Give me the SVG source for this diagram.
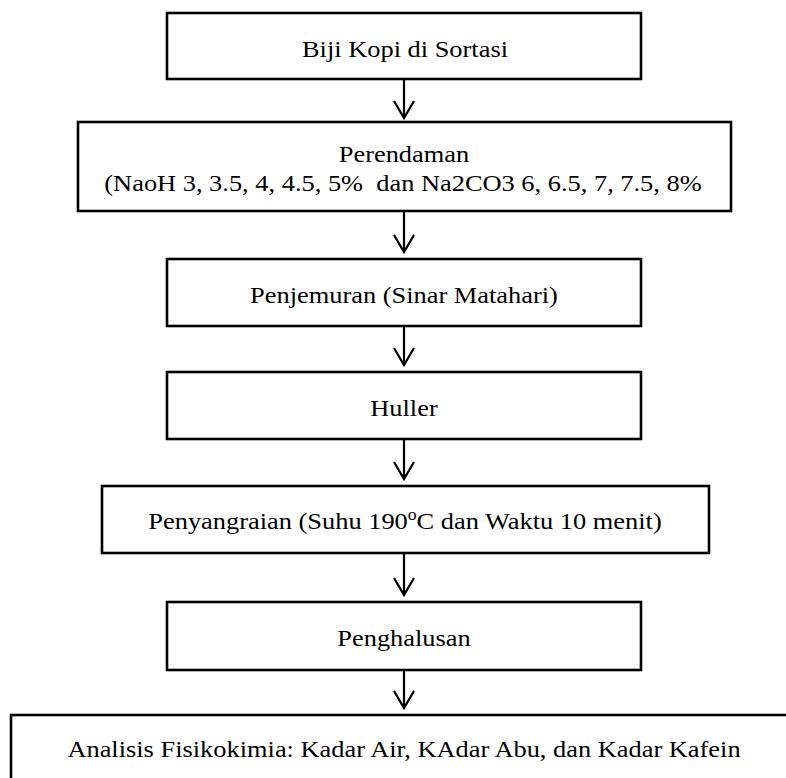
<svg xmlns="http://www.w3.org/2000/svg" width="786" height="778" viewBox="0 0 786 778">
  <style>
    .box { fill: #ffffff; stroke: #000000; stroke-width: 2.6; }
    .lbl { font-family: "Liberation Serif", "Times New Roman", serif; font-size: 24px; fill: #000000; text-anchor: middle; }
    .conn { fill: none; stroke: #000000; stroke-width: 2.2; stroke-linecap: butt; stroke-linejoin: miter; }
  </style>
  <rect width="786" height="778" fill="#ffffff"/>

  <g id="connectors">
    <path class="conn" d="M404 79 V118 M394 101 L404 118 L414 101"/>
    <path class="conn" d="M404 211 V252 M394 235 L404 252 L414 235"/>
    <path class="conn" d="M404 326 V365 M394 348 L404 365 L414 348"/>
    <path class="conn" d="M404 439 V479 M394 462 L404 479 L414 462"/>
    <path class="conn" d="M404 553 V595 M394 578 L404 595 L414 578"/>
    <path class="conn" d="M404 670 V708 M394 691 L404 708 L414 691"/>
  </g>

  <g id="node-sortasi">
    <rect class="box" x="167" y="13" width="474" height="66"/>
    <text class="lbl" transform="translate(405 57) scale(1.1 1)">Biji Kopi di Sortasi</text>
  </g>

  <g id="node-perendaman">
    <rect class="box" x="78" y="122" width="653" height="89"/>
    <text class="lbl" transform="translate(404 162) scale(1.1 1)">Perendaman</text>
    <text class="lbl" transform="translate(403 191) scale(1.1 1)" xml:space="preserve">(NaoH 3, 3.5, 4, 4.5, 5%  dan Na2CO3 6, 6.5, 7, 7.5, 8%</text>
  </g>

  <g id="node-penjemuran">
    <rect class="box" x="167" y="259" width="474" height="67"/>
    <text class="lbl" transform="translate(404 303) scale(1.1 1)">Penjemuran (Sinar Matahari)</text>
  </g>

  <g id="node-huller">
    <rect class="box" x="167" y="372" width="474" height="67"/>
    <text class="lbl" transform="translate(404 416) scale(1.1 1)">Huller</text>
  </g>

  <g id="node-penyangraian">
    <rect class="box" x="102" y="486" width="607" height="67"/>
    <text class="lbl" transform="translate(405 528.5) scale(1.1 1)">Penyangraian (Suhu 190<tspan font-size="16" dy="-9">o</tspan><tspan dy="9">C dan Waktu 10 menit)</tspan></text>
  </g>

  <g id="node-penghalusan">
    <rect class="box" x="167" y="602" width="474" height="68"/>
    <text class="lbl" transform="translate(404 646) scale(1.1 1)">Penghalusan</text>
  </g>

  <g id="node-analisis">
    <rect class="box" x="11" y="715" width="790" height="80"/>
    <text class="lbl" transform="translate(404 757) scale(1.1 1)">Analisis Fisikokimia: Kadar Air, KAdar Abu, dan Kadar Kafein</text>
  </g>
</svg>
